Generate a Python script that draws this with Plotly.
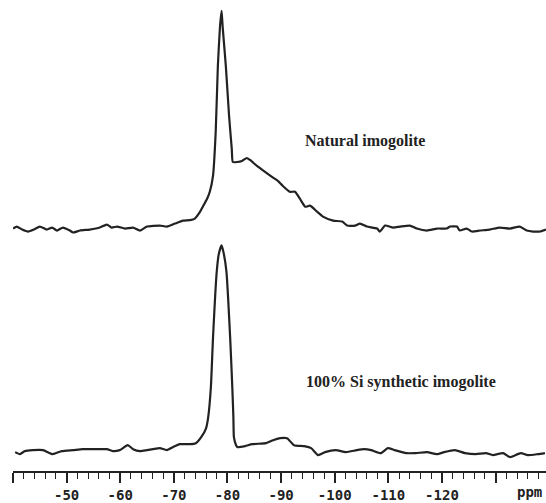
import plotly.graph_objects as go

# --- Natural imogolite (upper spectrum): chemical shift (ppm) and intensity (arb. units)
natural_ppm = [-40.0, -40.7, -41.7, -42.8, -43.9, -45.0, -46.3, -47.3, -48.2, -49.3,
               -50.6, -51.2, -52.5, -54.3, -56.2, -57.5, -58.4, -59.4, -60.9, -62.4,
               -63.7, -65.0, -67.4, -68.7, -70.2, -71.7, -73.0, -73.9, -74.9, -75.4,
               -76.2, -76.7, -77.3, -77.8, -78.2, -78.6, -78.9, -79.1, -79.7, -80.3,
               -80.8, -81.0, -81.8, -82.7, -83.6, -84.2, -85.5, -87.0, -88.3, -89.4,
               -90.3, -91.6, -92.6, -93.5, -94.5, -95.4, -96.7, -97.8, -99.7, -101.4,
               -102.3, -103.8, -104.7, -106.0, -107.9, -108.4, -109.4, -110.9, -112.2, -114.0,
               -115.3, -117.2, -119.1, -120.9, -121.5, -122.8, -123.3, -124.6, -125.6, -127.1,
               -128.9, -130.8, -132.7, -134.5, -135.8, -137.0, -138.3, -139.4]
natural_int = [0, 2, -1, -3, -1, 2, -1, 1, -2, 1,
               -2, -4, -2, -1, 1, 4, 1, 2, 0, 1,
               -2, 2, 3, 2, 5, 8, 8.5, 10, 17, 22,
               30, 37, 53, 97, 163, 203, 219, 203, 163, 113,
               80, 67, 67, 68, 71, 69, 63, 57, 52, 48,
               43, 37, 37, 30, 22, 23, 17, 12, 8, 7,
               3, 3, 5, 2, 0, -3, 3, 1, 2, 3,
               0, -2, 0, 0, 2, 2, -2, 0, -3, -2,
               -1, 1, 0, 2, -2, -3, -3, -1]

# --- 100% Si synthetic imogolite (lower spectrum)
synthetic_ppm = [-40.4, -41.3, -42.2, -43.7, -45.6, -47.4, -49.1, -51.2, -53.0, -55.7,
                 -57.5, -58.6, -59.9, -61.4, -62.4, -63.7, -65.0, -66.1, -67.4, -68.7,
                 -69.8, -71.1, -73.0, -74.1, -75.1, -76.0, -76.4, -76.9, -77.3, -78.0,
                 -78.4, -78.9, -79.3, -79.8, -80.5, -80.9, -81.1, -81.2, -81.6, -81.9,
                 -83.3, -84.6, -87.2, -88.5, -89.8, -91.1, -92.4, -94.3, -95.6, -96.9,
                 -98.2, -100.2, -102.1, -104.1, -105.5, -106.8, -108.6, -109.9, -111.2, -113.3,
                 -115.1, -117.2, -119.1, -120.4, -122.4, -124.3, -126.3, -128.2, -129.5, -131.4,
                 -132.7, -134.7, -136.0, -137.9, -139.2]
synthetic_int = [-3, -5, -2, -1, -1, -5, -2, -1, 0, 0,
                 0, -2, -1, 4, 0, -2, -1, 0, 1, -1,
                 2, 5, 5, 6, 12, 21, 32, 62, 112, 179,
                 197, 205, 197, 179, 112, 62, 32, 12, 4, 2,
                 3, 5, 6, 9, 11, 11, 4, 3, 1, -6,
                 -3, -1, -3, -1, 0, -1, -4, 1, -1, -4,
                 -4, -3, -5, -3, -1, -4, -5, -4, -6, -4,
                 -8, -4, -6, -5, -4]

# --- axis ticks
tick_vals = [-40, -50, -60, -70, -80, -90, -100, -110, -120, -130]
tick_text = ["", "-50", "-60", "-70", "-80", "-90", "-100", "-110", "-120", ""]
labels = ["Natural imogolite", "100% Si synthetic imogolite"]

ink = "#222222"
line_style = dict(color=ink, width=2.2, shape="spline", smoothing=0.5)

fig = go.Figure()
fig.add_trace(go.Scatter(x=synthetic_ppm, y=synthetic_int, mode="lines",
                         line=line_style, xaxis="x", yaxis="y",
                         showlegend=False, hoverinfo="skip"))
fig.add_trace(go.Scatter(x=natural_ppm, y=natural_int, mode="lines",
                         line=line_style, xaxis="x", yaxis="y2",
                         showlegend=False, hoverinfo="skip"))

split = 234 / 474
fig.update_layout(
    width=546, height=503,
    margin=dict(l=13, r=0, t=0, b=29),
    paper_bgcolor="white", plot_bgcolor="white",
    xaxis=dict(range=[-40, -139.4], showgrid=False, zeroline=False,
               showline=True, linecolor=ink, linewidth=1.5,
               tickmode="array", tickvals=tick_vals, ticktext=tick_text,
               ticks="outside", ticklen=10, tickwidth=1.5, tickcolor=ink,
               tickfont=dict(family="DejaVu Sans Mono", size=14, color=ink, weight="bold"),
               minor=dict(tick0=-40, dtick=2, ticks="outside", ticklen=6,
                          tickwidth=1.3, tickcolor=ink, showgrid=False)),
    yaxis=dict(domain=[0, split], range=[-22, 212], visible=False),
    yaxis2=dict(domain=[split, 1], range=[-10, 230], visible=False, anchor="x"),
    annotations=[
        dict(text=labels[0], xref="paper", yref="paper", x=(303 - 13) / 533, y=1 - 142 / 474,
             xanchor="left", yanchor="middle", showarrow=False,
             font=dict(family="Liberation Serif", size=16, color=ink, weight="bold")),
        dict(text=labels[1], xref="paper", yref="paper", x=(304 - 13) / 533, y=1 - 384 / 474,
             xanchor="left", yanchor="middle", showarrow=False,
             font=dict(family="Liberation Serif", size=16, color=ink, weight="bold")),
        dict(text="ppm", xref="x", yref="paper", x=-136.4, y=-21 / 474,
             xanchor="center", yanchor="middle", showarrow=False,
             font=dict(family="DejaVu Sans Mono", size=14, color=ink, weight="bold")),
    ],
)

fig.write_html("out.html", config={"displayModeBar": False},
               post_script="document.body.style.margin='0';document.body.style.overflow='hidden';")
